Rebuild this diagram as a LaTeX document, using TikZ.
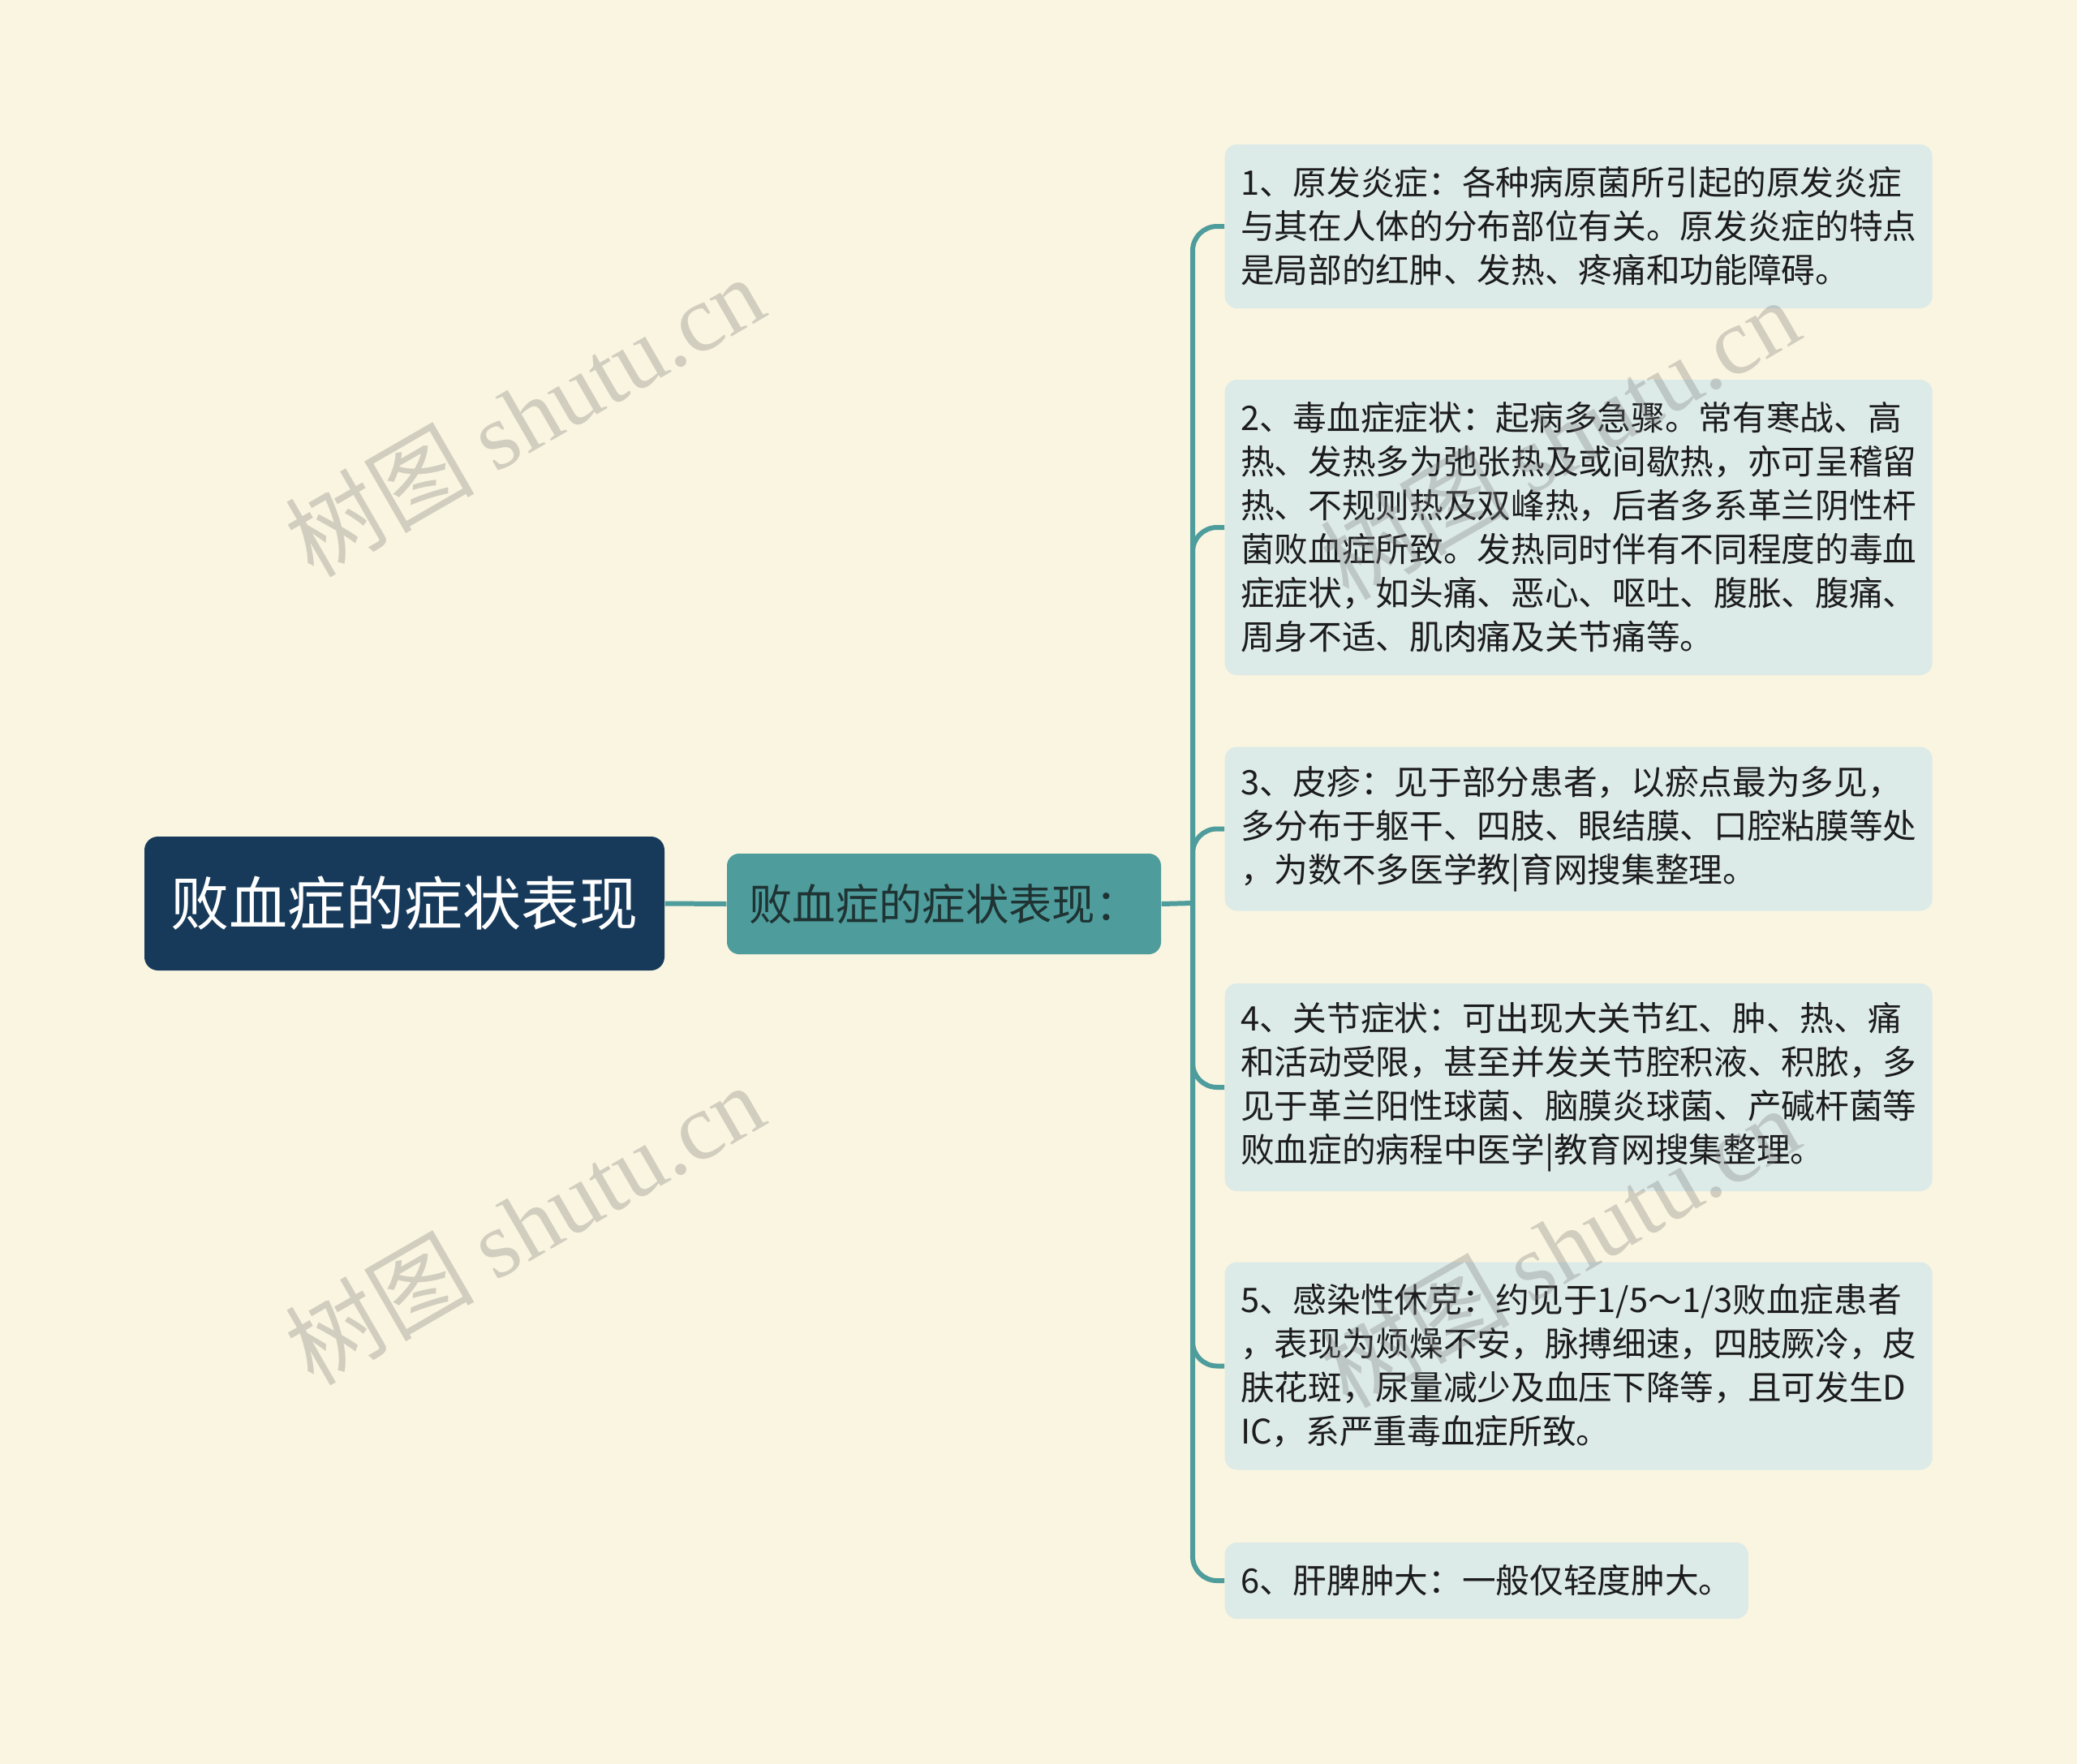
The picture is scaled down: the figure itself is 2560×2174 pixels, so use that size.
\documentclass[tikz,border=0pt]{standalone}
\usepackage{fontspec}
\setmainfont{Noto Sans CJK SC}
\newfontfamily\latinmark{Liberation Serif}
\definecolor{paper}{HTML}{FAF5E0}
\definecolor{rootblue}{HTML}{173A5A}
\definecolor{teal}{HTML}{4E9C9C}
\definecolor{subtext}{HTML}{1F3333}
\definecolor{leafbg}{HTML}{DCEAE8}
\definecolor{leaftext}{HTML}{1C1C1C}
\tikzset{
		rootbox/.style={fill=rootblue, text=white, rounded corners=5pt, inner sep=0pt,
			minimum width=192.3pt, minimum height=49.5pt, font=\fontsize{21.6}{26}\selectfont},
		subbox/.style={fill=teal, text=subtext, rounded corners=4.5pt, inner sep=0pt,
			minimum width=160.5pt, minimum height=37.2pt, font=\fontsize{16}{19}\selectfont},
		leaf/.style={fill=leafbg, text=leaftext, rounded corners=4.5pt, inner xsep=5.8pt, inner ysep=0pt,
			minimum height={#1*16.2pt+12pt}, align=left, anchor=west, font=\fontsize{12.5}{16.2}\selectfont},
		leafw/.style={leaf=#1, text width=250pt},
		branch/.style={draw=teal, line width=1.8pt, rounded corners=9pt},
		shutumark/.style={rotate=30, inner sep=0pt, text=black!50, text opacity=0.33,
			font=\fontsize{35}{38}\selectfont}
	}

\begin{document}
\begin{tikzpicture}[x=0.3pt, y=-0.3pt] % (one unit = one pixel of the reference, y running down)
		\fill[paper] (0,0) rectangle (2560,2174);
		\useasboundingbox (0,0) rectangle (2560,2174);
		% the two heads
		\node[rootbox] (root) at (498.5,1113.5) {败血症的症状表现};
		\node[subbox] (sub) at (1163.5,1114) {败血症的症状表现：};
		\coordinate (hub) at (1470,1113);
		% the six leaves
		\node[leafw=3] (l1) at (1509,279) {1、原发炎症：各种病原菌所引起的原发炎症\\与其在人体的分布部位有关。原发炎症的特点\\是局部的红肿、发热、疼痛和功能障碍。};
		\node[leafw=6] (l2) at (1509,650) {2、毒血症症状：起病多急骤。常有寒战、高\\热、发热多为弛张热及或间歇热，亦可呈稽留\\热、不规则热及双峰热，后者多系革兰阴性杆\\菌败血症所致。发热同时伴有不同程度的毒血\\症症状，如头痛、恶心、呕吐、腹胀、腹痛、\\周身不适、肌肉痛及关节痛等。};
		\node[leafw=3] (l3) at (1509,1021.5) {3、皮疹：见于部分患者，以瘀点最为多见，\\多分布于躯干、四肢、眼结膜、口腔粘膜等处\\，为数不多医学教|育网搜集整理。};
		\node[leafw=4] (l4) at (1509,1340) {4、关节症状：可出现大关节红、肿、热、痛\\和活动受限，甚至并发关节腔积液、积脓，多\\见于革兰阳性球菌、脑膜炎球菌、产碱杆菌等\\败血症的病程中医学|教育网搜集整理。};
		\node[leafw=4] (l5) at (1509,1683.5) {5、感染性休克：约见于1/5～1/3败血症患者\\，表现为烦燥不安，脉搏细速，四肢厥冷，皮\\肤花斑，尿量减少及血压下降等，且可发生D\\IC，系严重毒血症所致。};
		\node[leaf=1] (l6) at (1509,1948) {6、肝脾肿大：一般仅轻度肿大。};
		% connectors
		\draw[branch] (root.east) -- (sub.west);
		\draw[branch] (sub.east) -- (hub);
		\foreach \i in {1,...,6}{
			\draw[branch] (hub) |- (l\i.west);
		}
		% watermarks
		\foreach \wx/\wy [count=\k] in {646/512, 646/1508, 1922/540, 1922/1536}{
			\node[shutumark] (wm\k) at (\wx,\wy) {树图 {\latinmark shutu.cn}};
		}
	\end{tikzpicture}
\end{document}
